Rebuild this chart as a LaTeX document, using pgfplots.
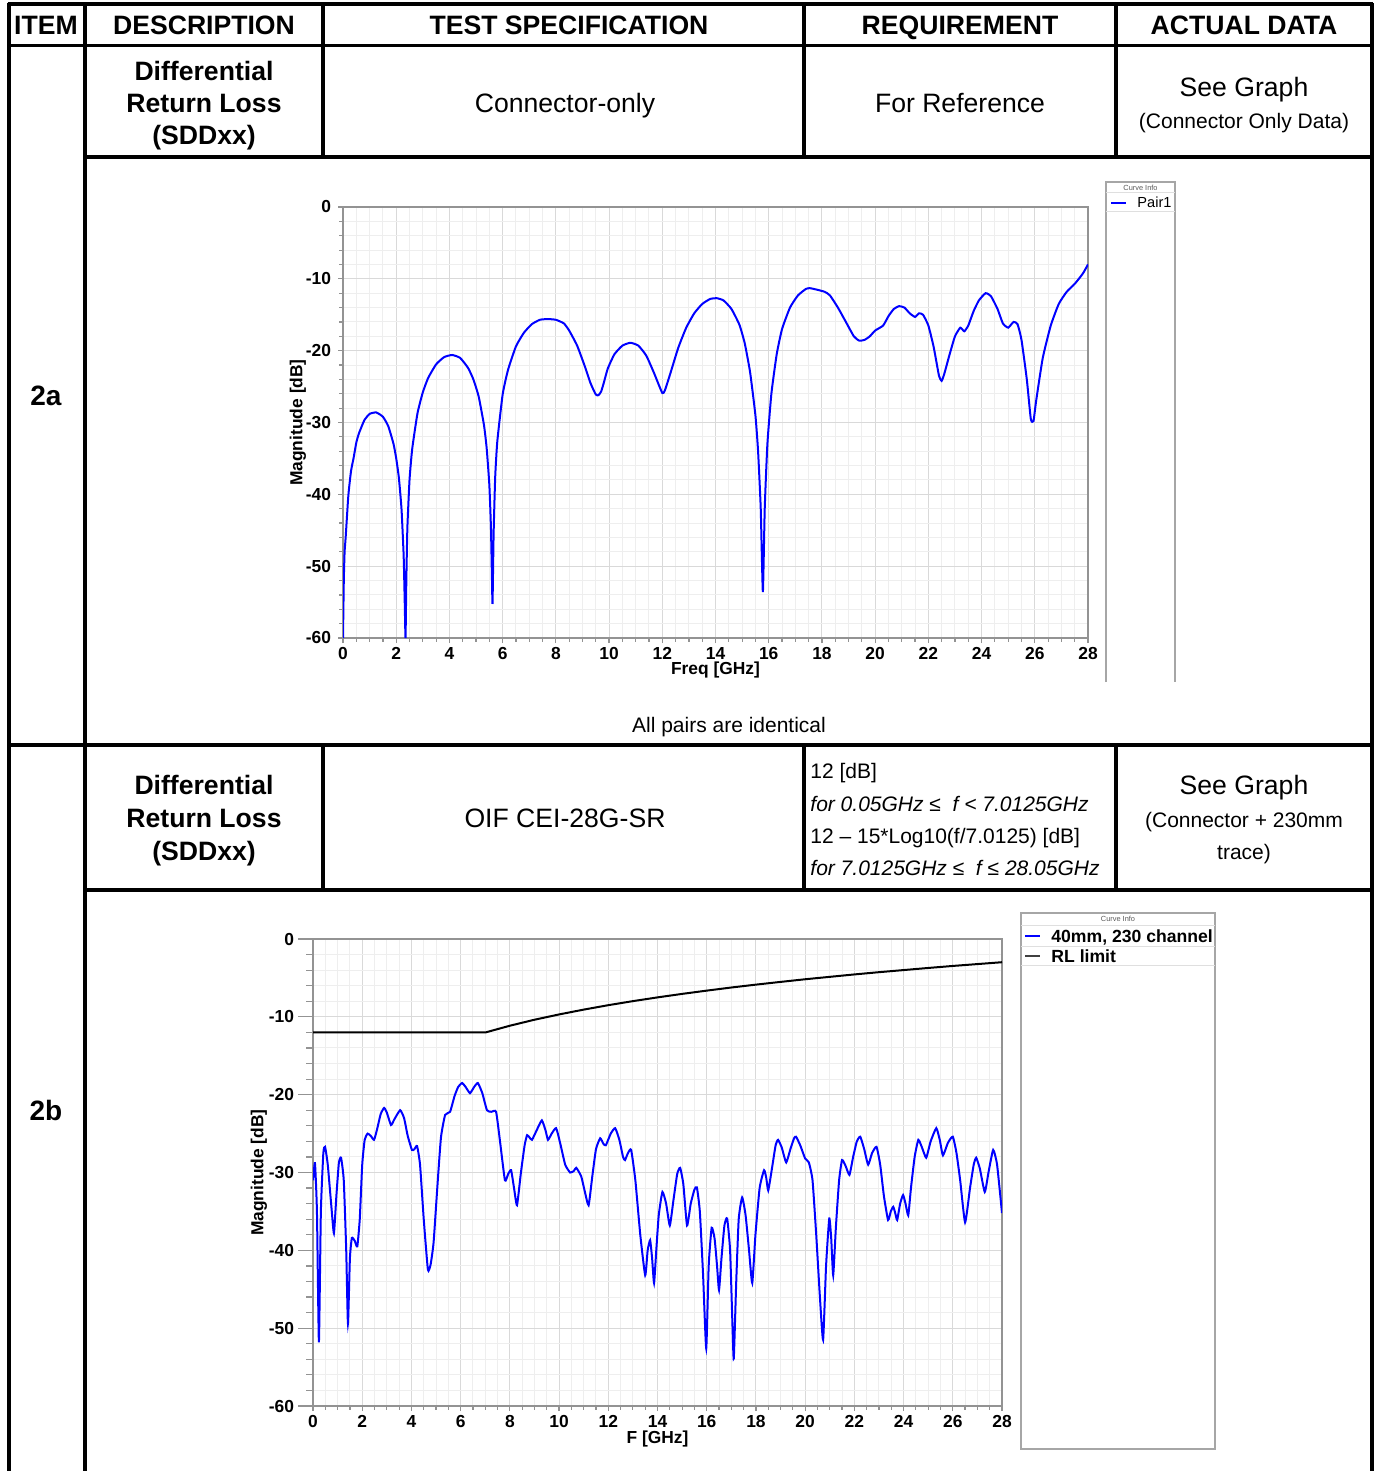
\documentclass[border=0pt]{standalone}
\usepackage{fontspec}
\setmainfont{Liberation Sans}
\usepackage{pgfplots}
\pgfplotsset{compat=1.18}
\newcommand\hf{\bfseries\fontsize{13.3}{16}\selectfont}
\newcommand\nf{\fontsize{13.3}{16}\selectfont}
\newcommand\smf{\fontsize{10.5}{12}\selectfont}
\newcommand\tf{\bfseries\fontsize{8.7}{10}\selectfont}
\pgfplotsset{rlaxis/.style={scale only axis, xmin=0,xmax=28,ymin=-60,ymax=0,
  xtick={0,2,...,28}, xticklabels={0,2,4,6,8,10,12,14,16,18,20,22,24,26,28},
  ytick={-60,-50,...,0}, yticklabels={-60,-50,-40,-30,-20,-10,0},
  minor x tick num=3, minor y tick num=4, grid=both,
  major grid style={gray!30,line width=0.5pt}, minor grid style={gray!13,line width=0.5pt},
  tick align=outside, tick pos=left,
  axis line style={gray!85, line width=0.6pt}, tick style={gray!85, line width=0.6pt},
  major tick length=2.5pt, minor tick length=1.8pt,
  tick label style={font=\tf}, label style={font=\tf}}}
\begin{document}
\begin{tikzpicture}
\begin{scope}[x=0.5pt,y=-0.5pt]
\useasboundingbox (0,0) rectangle (1378,1471);
% table lines
\begin{scope}[line width=1.6pt, black]
\draw (7.5,4) -- (1373,4);
\draw (9,3) -- (9,1471);
\draw (1372,3) -- (1372,1471);
\draw (9,45.5) -- (1372,45.5);
\draw (85,3) -- (85,1471);
\draw (323,3) -- (323,157);
\draw (804,3) -- (804,157);
\draw (1116,3) -- (1116,157);
\draw (85,157) -- (1372,157);
\draw[line width=2pt] (9,745) -- (1372,745);
\draw (323,745) -- (323,890);
\draw (804,745) -- (804,890);
\draw (1116,745) -- (1116,890);
\draw (85,890) -- (1372,890);
\end{scope}
\begin{scope}[every node/.style={inner sep=0pt, anchor=base}]
\node[font=\hf] at (46,34.5) {ITEM};
\node[font=\hf] at (204,34.5) {DESCRIPTION};
\node[font=\hf] at (569,34.5) {TEST SPECIFICATION};
\node[font=\hf] at (960,34.5) {REQUIREMENT};
\node[font=\hf] at (1244,34.5) {ACTUAL DATA};
\node[font=\hf] at (204,80.5) {Differential};
\node[font=\hf] at (204,112.5) {Return Loss};
\node[font=\hf] at (204,145) {(SDDxx)};
\node[font=\nf] at (565,112.5) {Connector-only};
\node[font=\nf] at (960,112.5) {For Reference};
\node[font=\nf] at (1244,96.5) {See Graph};
\node[font=\smf] at (1244,128.5) {(Connector Only Data)};
\node[font=\bfseries\fontsize{14}{16}\selectfont] at (46,405) {2a};
\node[font=\smf] at (729,732.5) {All pairs are identical};
\node[font=\hf] at (204,794.5) {Differential};
\node[font=\hf] at (204,827.5) {Return Loss};
\node[font=\hf] at (204,860) {(SDDxx)};
\node[font=\nf] at (565,827.5) {OIF CEI-28G-SR};
\node[font=\smf, anchor=base west] at (810,778.5) {12 [dB]};
\node[font=\smf\itshape, anchor=base west] at (810,811.5) {for 0.05GHz ≤\ \ f < 7.0125GHz};
\node[font=\smf, anchor=base west] at (810,843.5) {12 – 15*Log10(f/7.0125) [dB]};
\node[font=\smf\itshape, anchor=base west] at (810,875.5) {for 7.0125GHz ≤\ \ f ≤ 28.05GHz};
\node[font=\nf] at (1244,794.5) {See Graph};
\node[font=\smf] at (1244,827.5) {(Connector + 230mm};
\node[font=\smf] at (1244,859.5) {trace)};
\node[font=\bfseries\fontsize{14}{16}\selectfont] at (46,1120) {2b};
\end{scope}
% legend 1
\draw[gray!70, line width=0.6pt] (1106,682) -- (1106,182) -- (1175,182) -- (1175,682);
\node[inner sep=0pt, font=\fontsize{3.7}{4}\selectfont, text=gray!70!black] at (1140.5,187.5) {Curve Info};
\draw[gray!25, line width=0.5pt] (1106,193) -- (1175,193);
\draw[blue, line width=0.8pt] (1111,203) -- (1126,203);
\node[anchor=base west, inner sep=0pt, font=\fontsize{7.3}{9}\selectfont] at (1137,208) {Pair1};
\draw[gray!25, line width=0.5pt] (1106,212) -- (1175,212);
% legend 2
\draw[gray!70, line width=0.6pt] (1021,913) rectangle (1215,1449);
\node[inner sep=0pt, font=\fontsize{3.7}{4}\selectfont, text=gray!70!black] at (1118,918.5) {Curve Info};
\draw[gray!25, line width=0.5pt] (1021,925) -- (1215,925);
\draw[blue, line width=0.8pt] (1025,936) -- (1040,936);
\node[anchor=base west, inner sep=0pt, font=\bfseries\fontsize{8.8}{10}\selectfont] at (1051,942) {40mm, 230 channel};
\draw[gray!25, line width=0.5pt] (1021,946) -- (1215,946);
\draw[black!75, line width=0.8pt] (1025,956) -- (1040,956);
\node[anchor=base west, inner sep=0pt, font=\bfseries\fontsize{8.8}{10}\selectfont] at (1051,962) {RL limit};
\draw[gray!25, line width=0.5pt] (1021,965) -- (1215,965);
\end{scope}

% chart 1
\begin{axis}[rlaxis, at={(171.5pt,-319pt)}, anchor=south west, width=372.5pt, height=215.5pt,
  xlabel={Freq [GHz]}, ylabel={Magnitude [dB]},
  xlabel style={at={(axis description cs:0.5,-0.0752)}, anchor=center},
  ylabel style={at={(axis description cs:-0.0604,0.5)}, anchor=center},
  xticklabel shift=-1.2pt]
\addplot[blue, line width=1pt, smooth, tension=0.3] coordinates {
(0.00,-60) (0.03,-52) (0.06,-48) (0.10,-46) (0.2,-40.2) (0.3,-36.8) (0.4,-34.9) (0.5,-32.8)
(0.6,-31.5) (0.8,-29.7) (1.0,-28.8) (1.25,-28.6) (1.5,-29.2) (1.7,-30.5) (1.9,-33) (2.0,-35)
(2.1,-37.7) (2.2,-42.1) (2.28,-48.6) (2.32,-55) (2.35,-60) (2.38,-52) (2.42,-44.6) (2.5,-38)
(2.6,-33.7) (2.8,-28.7) (3.0,-25.8) (3.2,-23.8) (3.5,-21.9) (3.8,-20.9) (4.1,-20.6) (4.4,-21)
(4.7,-22.4) (4.9,-24) (5.1,-26.4) (5.3,-30.4) (5.4,-33.6) (5.5,-38.7) (5.56,-44.6) (5.6,-52)
(5.62,-55.2) (5.66,-45.6) (5.72,-37.6) (5.8,-32.6) (6.0,-26.1) (6.2,-22.7) (6.5,-19.4)
(6.8,-17.5) (7.1,-16.3) (7.4,-15.7) (7.7,-15.6) (8.0,-15.7) (8.3,-16.2) (8.5,-17.2) (8.8,-19.3)
(9.1,-22.3) (9.3,-24.5) (9.5,-26.1) (9.6,-26.2) (9.7,-25.7) (9.8,-24.5) (9.95,-22.5) (10.2,-20.5)
(10.5,-19.3) (10.8,-18.9) (11.1,-19.3) (11.4,-20.7) (11.7,-23.2) (12.0,-25.9) (12.1,-25.5)
(12.3,-23.2) (12.6,-19.6) (12.9,-16.8) (13.2,-14.8) (13.5,-13.5) (13.8,-12.8) (14.05,-12.7)
(14.3,-13.0) (14.6,-14.2) (14.9,-16.4) (15.1,-19) (15.3,-23) (15.5,-29) (15.6,-34) (15.7,-42)
(15.78,-53.6) (15.85,-42) (15.95,-33) (16.1,-26) (16.3,-20.5) (16.5,-17) (16.8,-14) (17.1,-12.3)
(17.4,-11.4) (17.55,-11.3) (17.8,-11.5) (18.1,-11.8) (18.3,-12.3) (18.6,-14) (18.9,-16) (19.2,-18)
(19.4,-18.6) (19.6,-18.5) (19.8,-18.0) (20.0,-17.2) (20.3,-16.5) (20.5,-15.2) (20.7,-14.2)
(20.9,-13.8) (21.1,-14.0) (21.3,-14.8) (21.5,-15.3) (21.65,-14.8) (21.8,-15.0) (22.0,-16.5)
(22.2,-19.5) (22.4,-23.5) (22.5,-24.2) (22.6,-23.2) (22.8,-20.5) (23.0,-18) (23.2,-16.8)
(23.35,-17.3) (23.5,-16.5) (23.7,-14.5) (23.9,-13.0) (24.15,-12.0) (24.35,-12.4) (24.6,-14.2)
(24.8,-16.2) (25.0,-16.8) (25.2,-16.0) (25.35,-16.3) (25.5,-18.5) (25.7,-24) (25.85,-29.5)
(25.95,-29.8) (26.05,-27) (26.3,-21) (26.6,-16.5) (26.9,-13.5) (27.2,-11.8) (27.5,-10.7)
(27.8,-9.3) (28.0,-8.0)};
\end{axis}

% chart 2
\begin{axis}[rlaxis, at={(156.5pt,-703pt)}, anchor=south west, width=344.5pt, height=233.5pt,
  xlabel={F [GHz]}, ylabel={Magnitude [dB]},
  xlabel style={at={(axis description cs:0.5,-0.0715)}, anchor=center},
  ylabel style={at={(axis description cs:-0.0784,0.5)}, anchor=center},
  y tick style={/pgfplots/major tick length=7.5pt,/pgfplots/minor tick length=3.5pt},
  yticklabel shift=3.5pt, xticklabel shift=-1.5pt]
\addplot[black, line width=1pt] coordinates {
(0,-12) (7.0125,-12) (8,-11.14) (9,-10.37) (10,-9.69) (11,-9.07) (12,-8.50) (13,-7.98)
(14,-7.50) (15,-7.05) (16,-6.63) (17,-6.23) (18,-5.86) (19,-5.51) (20,-5.17) (21,-4.86)
(22,-4.55) (23,-4.26) (24,-3.99) (25,-3.72) (26,-3.46) (27,-3.22) (28,-2.98)};
\addplot[blue, line width=1pt, smooth, tension=0.3] coordinates {
(0.00,-31) (0.08,-28.8) (0.16,-35) (0.24,-51.8) (0.32,-35) (0.42,-27.5) (0.49,-26.7) (0.6,-29)
(0.75,-34.5) (0.85,-37.8) (0.95,-33) (1.05,-28.8) (1.14,-28.1) (1.25,-31) (1.35,-40) (1.42,-49.4)
(1.50,-41) (1.58,-38.4) (1.7,-38.8) (1.8,-39.5) (1.9,-36) (2.0,-29) (2.1,-25.8) (2.22,-25)
(2.35,-25.3) (2.48,-25.8) (2.6,-24.5) (2.75,-22.5) (2.89,-21.7) (3.0,-22.3) (3.17,-23.9)
(3.3,-23.2) (3.54,-22) (3.7,-23) (3.85,-25.3) (4.02,-27.1) (4.12,-27) (4.23,-26.6) (4.35,-29)
(4.5,-36) (4.67,-42.5) (4.78,-41.8) (4.9,-39) (5.05,-32) (5.2,-25.5) (5.37,-22.6) (5.57,-22.2)
(5.75,-20.2) (5.9,-19) (6.06,-18.5) (6.2,-19) (6.38,-19.8) (6.55,-19) (6.7,-18.5) (6.88,-19.8)
(7.07,-22) (7.25,-22.2) (7.44,-22.2) (7.6,-26) (7.8,-31) (7.93,-30.2) (8.05,-29.7) (8.17,-32)
(8.29,-34.2) (8.45,-30) (8.6,-26.5) (8.7,-25.2) (8.8,-25.5) (8.9,-25.8) (9.1,-24.5) (9.3,-23.3)
(9.45,-24.6) (9.55,-25.8) (9.7,-25) (9.88,-24.3) (10.05,-26.3) (10.25,-29) (10.45,-30)
(10.6,-29.8) (10.7,-29.4) (10.9,-30.5) (11.05,-32.5) (11.2,-34.2) (11.35,-30.5) (11.5,-27)
(11.67,-25.6) (11.8,-26.3) (11.9,-26.5) (12.1,-25) (12.28,-24.3) (12.45,-25.8) (12.6,-28)
(12.68,-28.4) (12.8,-27.5) (12.93,-27.1) (13.1,-31) (13.3,-38) (13.5,-43.2) (13.6,-40)
(13.7,-38.7) (13.78,-41) (13.86,-44.2) (13.95,-40) (14.05,-35.5) (14.2,-32.5) (14.35,-34)
(14.5,-36.8) (14.65,-33.5) (14.8,-30.2) (14.92,-29.4) (15.05,-31.5) (15.2,-36.8) (15.35,-34)
(15.5,-32.2) (15.6,-31.9) (15.72,-35) (15.85,-43) (15.98,-52.6) (16.08,-42) (16.2,-37.1)
(16.32,-38.5) (16.42,-42) (16.5,-45.1) (16.6,-41) (16.72,-36.8) (16.83,-35.9) (16.95,-40)
(17.05,-50) (17.1,-53.9) (17.2,-44) (17.3,-36) (17.44,-33.2) (17.58,-35.5) (17.72,-40)
(17.85,-44.2) (17.98,-38) (18.15,-32) (18.33,-29.7) (18.42,-30.7) (18.5,-32.3) (18.65,-29.5)
(18.8,-26.5) (18.9,-25.8) (19.05,-26.8) (19.23,-28.7) (19.4,-27) (19.55,-25.6) (19.63,-25.4)
(19.8,-26.5) (20.0,-28.2) (20.15,-28.7) (20.3,-31) (20.45,-38) (20.6,-46) (20.73,-51.5)
(20.85,-42) (20.98,-35.9) (21.06,-38.5) (21.14,-43.2) (21.25,-37) (21.38,-31) (21.5,-28.4)
(21.65,-29.2) (21.8,-30.3) (21.95,-28) (22.1,-26) (22.24,-25.4) (22.4,-27) (22.56,-29)
(22.72,-27.5) (22.9,-26.7) (23.05,-29) (23.2,-33) (23.37,-36.1) (23.48,-35) (23.58,-34.4)
(23.66,-35.2) (23.74,-36.1) (23.86,-34) (23.98,-32.9) (24.08,-34) (24.19,-35.5) (24.3,-32)
(24.45,-28) (24.6,-25.8) (24.75,-26.8) (24.92,-28.1) (25.1,-26) (25.33,-24.3) (25.47,-25.8)
(25.6,-27.8) (25.8,-26.2) (26.0,-25.4) (26.15,-27.5) (26.3,-31) (26.5,-36.4) (26.7,-32)
(26.85,-29) (26.95,-28.1) (27.1,-29.5) (27.3,-32.5) (27.45,-30) (27.64,-27.1) (27.8,-29)
(28.0,-35.2)};
\end{axis}
\end{tikzpicture}
\end{document}
